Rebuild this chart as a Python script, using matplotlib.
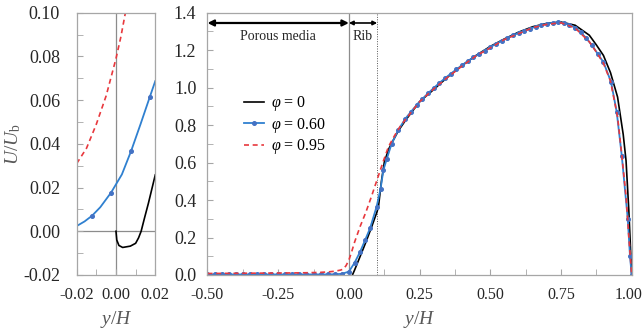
import numpy as np
import matplotlib
matplotlib.use('Agg')
import matplotlib.pyplot as plt
from matplotlib.ticker import MultipleLocator
from matplotlib.transforms import ScaledTranslation

plt.rcParams['font.family'] = ['Liberation Serif', 'DejaVu Serif']
plt.rcParams['mathtext.fontset'] = 'custom'
plt.rcParams['mathtext.rm'] = 'Liberation Serif'
plt.rcParams['mathtext.it'] = 'Liberation Serif:italic'

# ---- full profile (right panel) ----
# phi = 0.60 (blue, markers)
blue_y = [-0.500, -0.475, -0.450, -0.425, -0.400, -0.375, -0.350, -0.325, -0.300, -0.275,
          -0.250, -0.225, -0.200, -0.175, -0.150, -0.125, -0.100, -0.075, -0.050, -0.025,
          0.000, 0.020, 0.040, 0.057, 0.075, 0.098, 0.112, 0.122, 0.134, 0.151,
          0.175, 0.200, 0.220, 0.240, 0.260, 0.280, 0.300, 0.320, 0.340, 0.360,
          0.380, 0.400, 0.420, 0.440, 0.460, 0.480, 0.500, 0.520, 0.540, 0.560,
          0.580, 0.600, 0.620, 0.640, 0.660, 0.680, 0.700, 0.720, 0.740, 0.760,
          0.780, 0.800, 0.820, 0.840, 0.860, 0.880, 0.900, 0.927, 0.947, 0.965,
          0.986, 0.994, 1.000]
blue_u = [0.003, 0.003, 0.003, 0.003, 0.003, 0.003, 0.003, 0.003, 0.003, 0.003,
          0.003, 0.003, 0.003, 0.003, 0.003, 0.003, 0.003, 0.003, 0.004, 0.006,
          0.018, 0.065, 0.125, 0.185, 0.250, 0.365, 0.460, 0.560, 0.620, 0.700,
          0.775, 0.835, 0.872, 0.908, 0.940, 0.970, 0.998, 1.025, 1.050, 1.074,
          1.097, 1.120, 1.141, 1.161, 1.180, 1.198, 1.216, 1.234, 1.250, 1.265,
          1.279, 1.292, 1.304, 1.315, 1.325, 1.334, 1.341, 1.346, 1.348, 1.345,
          1.336, 1.320, 1.295, 1.263, 1.225, 1.180, 1.136, 1.030, 0.870, 0.635,
          0.300, 0.100, 0.000]

# phi = 0 (black)
black_y = [0.0125, 0.020, 0.040, 0.060, 0.080, 0.100, 0.105, 0.115, 0.125, 0.140,
           0.150, 0.175, 0.200, 0.250, 0.300, 0.350, 0.400, 0.450, 0.500, 0.550,
           0.600, 0.650, 0.700, 0.750, 0.800, 0.850, 0.875, 0.900, 0.925, 0.950,
           0.970, 0.980, 0.990, 1.000]
black_u = [0.000, 0.026, 0.100, 0.175, 0.255, 0.340, 0.370, 0.500, 0.600, 0.670,
           0.700, 0.770, 0.825, 0.925, 0.990, 1.058, 1.118, 1.172, 1.220, 1.260,
           1.296, 1.325, 1.343, 1.350, 1.333, 1.280, 1.228, 1.172, 1.080, 0.950,
           0.750, 0.610, 0.340, 0.000]

# phi = 0.95 (red dashed)
red_y = [-0.500, -0.400, -0.300, -0.200, -0.150, -0.100, -0.070, -0.050, -0.030, -0.020,
         -0.010, 0.000, 0.010, 0.020, 0.040, 0.060, 0.080, 0.100, 0.120, 0.140,
         0.160, 0.180, 0.200, 0.250, 0.300, 0.350, 0.400, 0.450, 0.500, 0.550,
         0.600, 0.650, 0.700, 0.750, 0.800, 0.850, 0.875, 0.900, 0.925, 0.950,
         0.965, 0.980, 0.990, 1.000]
red_u = [0.008, 0.009, 0.010, 0.011, 0.012, 0.014, 0.017, 0.020, 0.026, 0.031,
         0.050, 0.080, 0.125, 0.175, 0.260, 0.335, 0.420, 0.510, 0.600, 0.685,
         0.740, 0.790, 0.830, 0.925, 0.993, 1.056, 1.115, 1.170, 1.212, 1.257,
         1.288, 1.320, 1.338, 1.346, 1.318, 1.245, 1.190, 1.130, 1.035, 0.845,
         0.640, 0.420, 0.200, 0.000]

# ---- near-interface zoom (left panel) ----
zb_y = [-0.020, -0.016, -0.0122, -0.008, -0.0025, 0.003, 0.0077, 0.0125, 0.0172, 0.020]
zb_u = [0.0024, 0.0045, 0.0071, 0.0110, 0.0177, 0.0260, 0.0367, 0.0490, 0.0614, 0.0687]
zr_y = [-0.020, -0.015, -0.010, -0.005, 0.000, 0.0025, 0.005, 0.008]
zr_u = [0.031, 0.038, 0.049, 0.062, 0.079, 0.089, 0.101, 0.117]
zk_y = [0.000, 0.0004, 0.0015, 0.0034, 0.0073, 0.0100, 0.0115, 0.0128, 0.0145, 0.0165, 0.0200]
zk_u = [0.000, -0.004, -0.0065, -0.0074, -0.0068, -0.0055, -0.003, 0.000, 0.006, 0.0128, 0.0258]

labels = [r'$\varphi$ = 0', r'$\varphi$ = 0.60', r'$\varphi$ = 0.95']

c_blue = '#2f80d0'
c_mark = '#4472c4'
c_red = '#e8383d'
c_spine = '#a6a6a6'
c_txt = '#595959'

fig = plt.figure(figsize=(6.44, 3.33), dpi=100)
ax1 = fig.add_axes([0.1191, 0.1742, 0.1220, 0.7877])
ax2 = fig.add_axes([0.3222, 0.1742, 0.6587, 0.7877])

for ax in (ax1, ax2):
    for s in ax.spines.values():
        s.set_color(c_spine)
        s.set_linewidth(0.9)
    ax.tick_params(direction='in', which='both', color=c_spine, labelsize=12,
                   labelcolor='#262626', top=False, right=False)
    ax.tick_params(which='major', length=4)
    ax.tick_params(which='minor', length=4)

# left panel
ax1.axvline(0, color='#8c8c8c', lw=0.9, zorder=1)
ax1.axhline(0, color='#8c8c8c', lw=0.9, zorder=1)
ax1.plot(zk_y, zk_u, color='black', lw=1.2)
ax1.plot(zb_y, zb_u, color=c_blue, lw=1.3, marker='o', ms=2.6, mfc=c_mark, mec=c_mark,
         markevery=[2, 4, 6, 8])
ax1.plot(zr_y, zr_u, color=c_red, lw=1.2, ls=(0, (3, 2.2)))
ax1.set_xlim(-0.02, 0.02)
ax1.set_ylim(-0.02, 0.10)
ax1.xaxis.set_major_locator(MultipleLocator(0.02))
ax1.xaxis.set_minor_locator(MultipleLocator(0.01))
ax1.yaxis.set_major_locator(MultipleLocator(0.02))
ax1.yaxis.set_minor_locator(MultipleLocator(0.01))
ax1.xaxis.set_major_formatter(plt.FuncFormatter(lambda v, p: f'{v:.2f}'))
ax1.yaxis.set_major_formatter(plt.FuncFormatter(lambda v, p: f'{v:.2f}'))
ax1.tick_params(axis='y', pad=12, labelsize=13)
ax1.tick_params(axis='x', pad=9)
ax1.set_ylabel(r'$U/U_\mathrm{b}$', fontsize=14, color=c_txt, labelpad=0)
ax1.set_xlabel(r'$y/H$', fontsize=14, color=c_txt, labelpad=4)

# right panel
ax2.axvline(0, color='#8c8c8c', lw=0.9, zorder=1)
ax2.axvline(0.1, color='#555555', lw=0.7, ls=(0, (1, 1.5)), zorder=1)
ax2.plot(black_y, black_u, color='black', lw=1.2, label=labels[0])
ax2.plot(blue_y, blue_u, color=c_blue, lw=1.3, marker='o', ms=2.6, mfc=c_mark, mec=c_mark,
         label=labels[1])
ax2.plot(red_y, red_u, color=c_red, lw=1.2, ls=(0, (3, 2.2)), label=labels[2])
ax2.set_xlim(-0.5, 1.0)
ax2.set_ylim(0, 1.4)
ax2.xaxis.set_major_locator(MultipleLocator(0.25))
ax2.xaxis.set_minor_locator(MultipleLocator(0.125))
ax2.yaxis.set_major_locator(MultipleLocator(0.2))
ax2.yaxis.set_minor_locator(MultipleLocator(0.1))
ax2.xaxis.set_major_formatter(plt.FuncFormatter(lambda v, p: f'{v:.2f}'))
ax2.yaxis.set_major_formatter(plt.FuncFormatter(lambda v, p: f'{v:.1f}'))
ax2.tick_params(axis='y', pad=8, labelsize=13)
ax2.tick_params(axis='x', pad=9, labelsize=11.5)
ax2.set_xlabel(r'$y/H$', fontsize=14, color=c_txt, labelpad=4)

# region arrows
ax2.annotate('', xy=(0.0, 1.345), xytext=(-0.5, 1.345),
             arrowprops=dict(arrowstyle='<|-|>', color='black', lw=1.6,
                             mutation_scale=9, shrinkA=0, shrinkB=0))
ax2.annotate('', xy=(0.1, 1.345), xytext=(0.0, 1.345),
             arrowprops=dict(arrowstyle='<|-|>', color='black', lw=1.2,
                             mutation_scale=6, shrinkA=0, shrinkB=0))
ax2.text(-0.25, 1.275, 'Porous media', ha='center', va='center', fontsize=10, color='#262626')
ax2.text(0.05, 1.275, 'Rib', ha='center', va='center', fontsize=10, color='#262626')

ax2.legend(loc='center left', bbox_to_anchor=(0.085, 0.571), frameon=False, fontsize=11.5,
           handlelength=1.3, handletextpad=0.4, labelspacing=0.15, borderpad=0,
           borderaxespad=0)

# keep the last x label ("1.00") inside the canvas
fig.canvas.draw()
last = ax2.xaxis.get_major_ticks()[-1].label1
for t in ax2.xaxis.get_major_ticks():
    if t.label1.get_text() == '1.00':
        last = t.label1
last.set_transform(last.get_transform() + ScaledTranslation(-2.5 / 72, 0, fig.dpi_scale_trans))

fig.savefig('out.png', dpi=100)
